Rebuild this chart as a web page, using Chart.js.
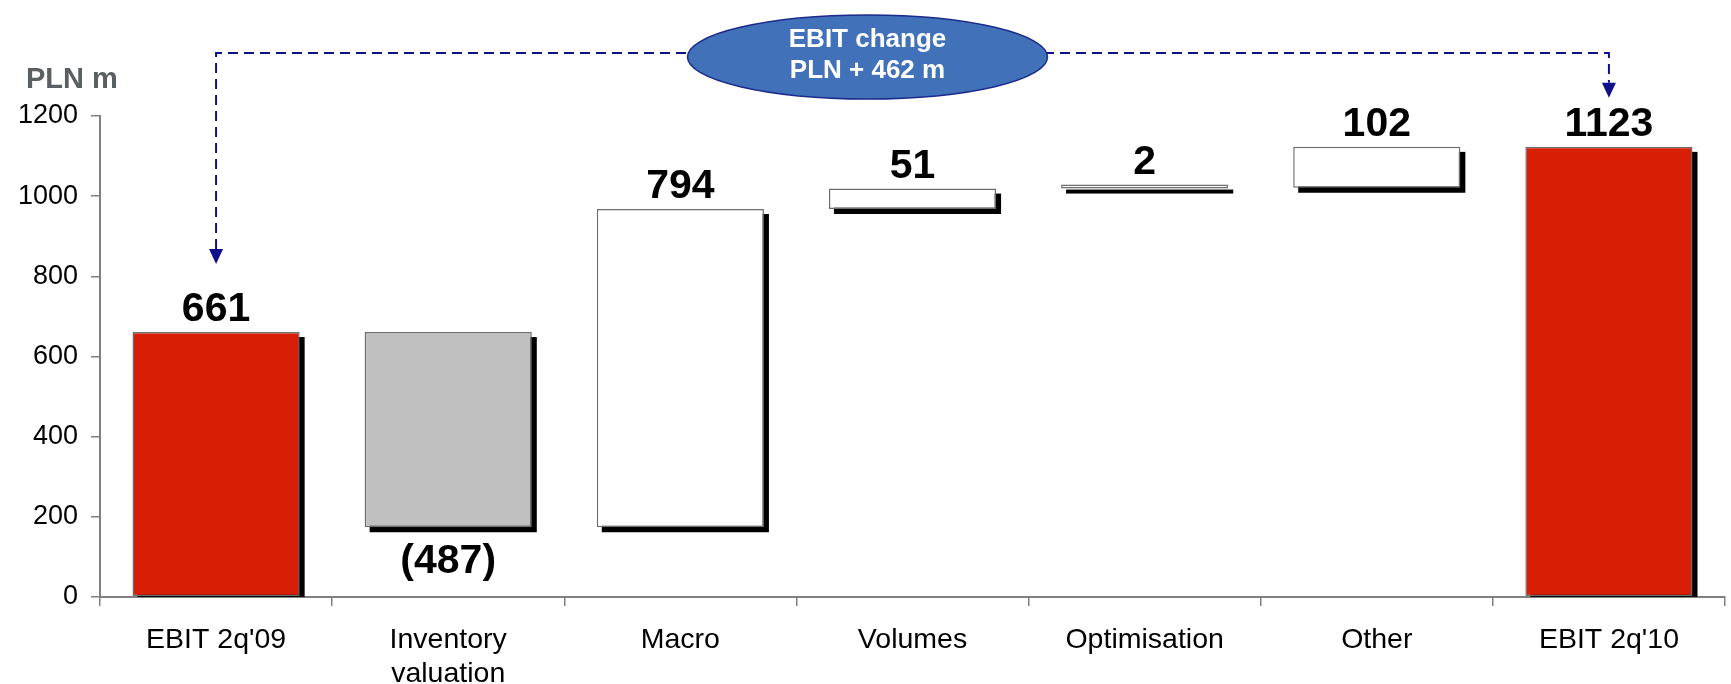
<!DOCTYPE html>
<html>
<head>
  <title>EBIT bridge</title>
  <style>
    body { margin: 0; background: #fff; }
    #wrap { position: relative; width: 1731px; height: 684px; }
  </style>
</head>
<body>
  <div id="wrap"><canvas id="myChart"></canvas></div>
  <script src="https://cdn.jsdelivr.net/npm/chart.js@4.4.0/dist/chart.umd.min.js"></script>
  <script>
    // chart values
    const categories = ["EBIT 2q'09", ['Inventory', 'valuation'], 'Macro', 'Volumes', 'Optimisation', 'Other', "EBIT 2q'10"];
    const changes = [661, -487, 794, 51, 2, 102, 1123];
    const isTotal = [true, false, false, false, false, false, true];
    const yTickValues = [0, 200, 400, 600, 800, 1000, 1200];
    const unitLabel = 'PLN m';

    // waterfall ranges built from the changes
    let running = 0;
    const ranges = changes.map((v, i) => {
      if (isTotal[i]) { running = v; return [0, v]; }
      let from = running;
      running += v;
      return [from, running];
    });
    const ebitChange = changes[changes.length - 1] - changes[0];

    const FONT = 'Arial, "Liberation Sans", sans-serif';
    Chart.defaults.font.family = FONT;
    Chart.defaults.color = '#000';

    // black drop shadow behind every bar
    const shadowPlugin = {
      id: 'shadow',
      beforeDatasetsDraw(chart) {
        let ctx = chart.ctx, a = chart.chartArea;
        ctx.save();
        ctx.beginPath();
        ctx.rect(a.left, a.top - 20, a.right - a.left, a.bottom - a.top + 20);
        ctx.clip();
        ctx.fillStyle = '#000';
        chart.getDatasetMeta(0).data.forEach(bar => {
          let p = bar.getProps(['x', 'y', 'base', 'width'], true);
          let top = Math.min(p.y, p.base), bottom = Math.max(p.y, p.base);
          ctx.fillRect(p.x - p.width / 2 + 5, top + 5, p.width, bottom - top);
        });
        ctx.restore();
      }
    };

    // value labels above / below the bars
    const labelPlugin = {
      id: 'valueLabels',
      afterDatasetsDraw(chart) {
        let ctx = chart.ctx;
        ctx.save();
        ctx.font = 'bold 41px ' + FONT;
        ctx.fillStyle = '#000';
        ctx.textAlign = 'center';
        ctx.textBaseline = 'alphabetic';
        chart.getDatasetMeta(0).data.forEach((bar, i) => {
          let p = bar.getProps(['x', 'y', 'base'], true);
          let v = changes[i];
          let top = Math.min(p.y, p.base), bottom = Math.max(p.y, p.base);
          if (v < 0) ctx.fillText('(' + (-v) + ')', p.x, bottom + 46);
          else ctx.fillText(String(v), p.x, top - 11);
        });
        ctx.restore();
      }
    };

    // unit title, dashed connector and the "EBIT change" bubble
    const annotationPlugin = {
      id: 'bridgeNote',
      afterDraw(chart) {
        let ctx = chart.ctx;
        let xs = chart.scales.x, ys = chart.scales.y;
        let last = changes.length - 1;
        let x0 = xs.getPixelForValue(0), x1 = xs.getPixelForValue(last);
        let tip0 = ys.getPixelForValue(changes[0]) - 68;
        let tip1 = ys.getPixelForValue(changes[last]) - 49;
        let lineY = 53, ah = 15, aw = 7;

        ctx.save();
        ctx.font = 'bold 29px ' + FONT;
        ctx.fillStyle = '#5a5f62';
        ctx.textAlign = 'left';
        ctx.fillText(unitLabel, 26, 88);

        ctx.strokeStyle = '#10108a';
        ctx.fillStyle = '#10108a';
        ctx.lineWidth = 2;
        ctx.setLineDash([10, 6]);
        ctx.beginPath();
        ctx.moveTo(x0, tip0 - ah);
        ctx.lineTo(x0, lineY);
        ctx.lineTo(x1, lineY);
        ctx.lineTo(x1, tip1 - ah);
        ctx.stroke();
        ctx.setLineDash([]);
        [[x0, tip0], [x1, tip1]].forEach(t => {
          ctx.beginPath();
          ctx.moveTo(t[0] - aw, t[1] - ah);
          ctx.lineTo(t[0] + aw, t[1] - ah);
          ctx.lineTo(t[0], t[1]);
          ctx.closePath();
          ctx.fill();
        });

        let cx = xs.getPixelForValue(3) - 45, cy = 57;
        ctx.beginPath();
        ctx.ellipse(cx, cy, 180, 42, 0, 0, Math.PI * 2);
        ctx.fillStyle = '#4172b9';
        ctx.fill();
        ctx.lineWidth = 1.5;
        ctx.strokeStyle = '#1c2a8c';
        ctx.stroke();

        ctx.font = 'bold 26px ' + FONT;
        ctx.fillStyle = '#fff';
        ctx.textAlign = 'center';
        ctx.fillText('EBIT change', cx, 47);
        ctx.fillText('PLN + ' + ebitChange + ' m', cx, 78);
        ctx.restore();
      }
    };

    const ctx = document.getElementById('myChart').getContext('2d');
    const chart = new Chart(ctx, {
      type: 'bar',
      data: {
        labels: categories,
        datasets: [{
          data: ranges,
          backgroundColor: changes.map((v, i) => isTotal[i] ? '#d81e05' : (v < 0 ? '#c0c0c0' : '#ffffff')),
          borderColor: '#6e6e6e',
          borderWidth: 1.5,
          borderSkipped: false,
          barPercentage: 0.72,
          categoryPercentage: 1,
          minBarLength: 4
        }]
      },
      options: {
        responsive: true,
        maintainAspectRatio: false,
        animation: false,
        layout: { padding: { top: 116, right: 6, left: 0, bottom: 0 } },
        plugins: {
          legend: { display: false },
          tooltip: { enabled: false }
        },
        scales: {
          x: {
            afterFit: s => { s.height = 87; },
            grid: { drawOnChartArea: false, drawTicks: true, tickLength: 9, color: '#808080', lineWidth: 1.5 },
            border: { color: '#808080', width: 2 },
            ticks: { font: { size: 28.5, lineHeight: 1.2 }, padding: 17, maxRotation: 0, autoSkip: false }
          },
          y: {
            min: yTickValues[0],
            max: yTickValues[yTickValues.length - 1],
            afterFit: s => { s.width = 100; },
            afterBuildTicks: s => { s.ticks = yTickValues.map(v => ({ value: v })); },
            grid: { drawOnChartArea: false, drawTicks: true, tickLength: 9, color: '#808080', lineWidth: 1.5 },
            border: { color: '#808080', width: 2 },
            ticks: { font: { size: 27 }, padding: 13, callback: v => String(v) }
          }
        }
      },
      plugins: [shadowPlugin, labelPlugin, annotationPlugin]
    });
  </script>
</body>
</html>
